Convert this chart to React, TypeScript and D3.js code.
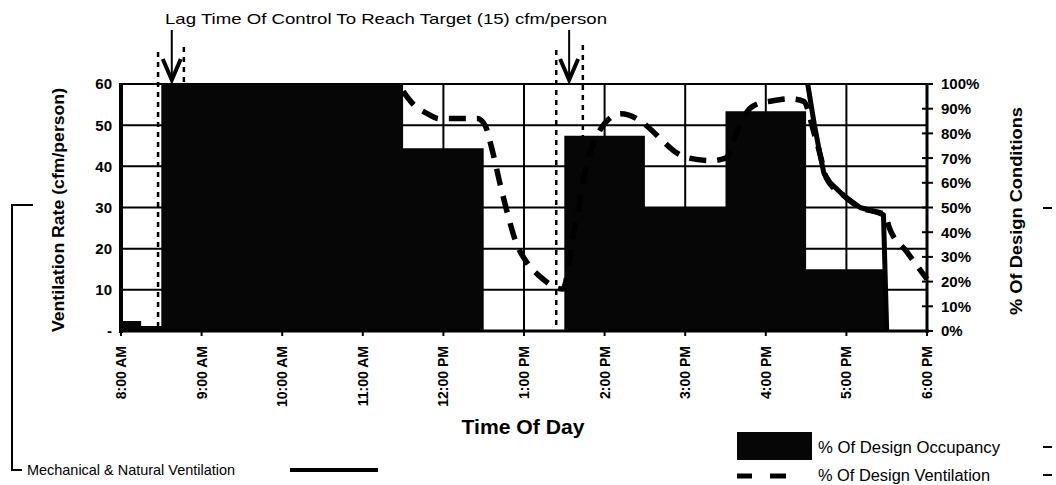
import React from "react";
import * as d3 from "d3";

// time of day in decimal hours, values in % of design
const hourTicks = [8, 9, 10, 11, 12, 13, 14, 15, 16, 17, 18];
const hourLabels = ["8:00 AM", "9:00 AM", "10:00 AM", "11:00 AM", "12:00 PM", "1:00 PM", "2:00 PM", "3:00 PM", "4:00 PM", "5:00 PM", "6:00 PM"];
const leftTicks = [0, 10, 20, 30, 40, 50, 60];
const rightTicks = [0, 10, 20, 30, 40, 50, 60, 70, 80, 90, 100];

// % Of Design Occupancy (step starts)
const occTimes = [8, 8.25, 8.5, 11.5, 12.5, 13.5, 14.5, 15.5, 16.5, 17.5, 18];
const occValues = [4, 2, 100, 74, 0, 79, 50, 89, 25, 0, 0];

// % Of Design Ventilation
const ventTimes = [11.5, 11.62, 11.8, 11.95, 12.2, 12.42, 12.52, 12.6, 12.7, 12.8, 12.9, 13.03, 13.2, 13.48, 13.62, 13.8, 13.92, 14.0, 14.2, 14.4, 14.56, 14.72, 14.9, 15.05, 15.33, 15.5, 15.7, 15.8, 15.9, 16.05, 16.3, 16.47, 16.6, 16.67, 16.75, 16.96, 17.17, 17.4, 17.48, 17.53, 17.75, 18.0];
const ventValues = [97, 92, 88, 86, 86, 86, 83, 74, 60, 47, 36, 28, 22, 17, 40, 70, 80, 84, 88, 86, 82, 77, 72, 70, 69, 70, 85, 90, 92, 93, 94, 93, 80, 72, 62, 55, 50, 48, 47, 42, 32, 21];

// Mechanical & Natural Ventilation
const mechTimes = [16.52, 16.6, 16.67, 16.72, 16.8, 16.96, 17.17, 17.38, 17.46, 17.5];
const mechValues = [100, 84, 72, 64, 60, 55, 50, 48, 47, 0];

// lag time markers: [dotted start, dotted end, arrow]
const lagStart = [8.46, 13.4];
const lagEnd = [8.78, 13.73];
const lagArrow = [8.63, 13.56];

const W = 1056;
const H = 485;
const font = "'Liberation Sans', Arial, sans-serif";

export default function App() {
  const x = d3.scaleLinear().domain([8, 18]).range([121, 927]);
  const y = d3.scaleLinear().domain([0, 100]).range([331, 84]);
  const yL = d3.scaleLinear().domain([0, 60]).range([331, 84]);

  const occ = occTimes.map((t, i) => [t, occValues[i]] as [number, number]);
  const vent = ventTimes.map((t, i) => [t, ventValues[i]] as [number, number]);
  const mech = mechTimes.map((t, i) => [t, mechValues[i]] as [number, number]);

  const area = d3.area<[number, number]>()
    .x(d => x(d[0]))
    .y0(y(0))
    .y1(d => y(d[1]))
    .curve(d3.curveStepAfter);
  const line = d3.line<[number, number]>()
    .x(d => x(d[0]))
    .y(d => y(d[1]))
    .curve(d3.curveMonotoneX);
  const lineLin = d3.line<[number, number]>()
    .x(d => x(d[0]))
    .y(d => y(d[1]));

  return (
    <svg width={W} height={H} style={{ position: "absolute", left: 0, top: 0, background: "#fff" }} fontFamily={font}>
      {/* title */}
      <text x={165} y={24} fontSize={15} textLength={442} lengthAdjust="spacingAndGlyphs">
        Lag Time Of Control To Reach Target (15) cfm/person
      </text>

      {/* gridlines */}
      {leftTicks.map(t => (
        <line key={"h" + t} x1={x(8)} x2={x(18)} y1={yL(t)} y2={yL(t)} stroke="#000" strokeWidth={2} />
      ))}
      {hourTicks.map(t => (
        <line key={"v" + t} x1={x(t)} x2={x(t)} y1={y(100)} y2={y(0)} stroke="#000" strokeWidth={2} />
      ))}

      {/* lag dotted lines and arrows */}
      {lagStart.map((t, i) => (
        <g key={"lag" + i}>
          <line x1={x(t)} x2={x(t)} y1={i === 0 ? 52 : 50} y2={y(0)} stroke="#000" strokeWidth={2.5} strokeDasharray="5 5" />
          <line x1={x(lagEnd[i])} x2={x(lagEnd[i])} y1={i === 0 ? 47 : 45} y2={y(0)} stroke="#000" strokeWidth={2.5} strokeDasharray="5 5" />
          <line x1={x(lagArrow[i])} x2={x(lagArrow[i])} y1={30} y2={78} stroke="#000" strokeWidth={2} />
          <path d={`M${x(lagArrow[i]) - 9},59 L${x(lagArrow[i])},80 L${x(lagArrow[i]) + 9},59`} fill="none" stroke="#000" strokeWidth={4} />
        </g>
      ))}

      {/* occupancy */}
      <path d={area(occ) ?? ""} fill="#060606" />

      {/* ventilation dashed */}
      <path d={line(vent) ?? ""} fill="none" stroke="#000" strokeWidth={5.5} strokeDasharray="17 11" />
      {/* mechanical & natural solid */}
      <path d={lineLin(mech) ?? ""} fill="none" stroke="#000" strokeWidth={5} strokeLinejoin="round" />

      {/* axes frame */}
      <line x1={x(8)} x2={x(8)} y1={y(100) - 1} y2={y(0) + 2} stroke="#000" strokeWidth={4} />
      <line x1={x(8) - 2} x2={x(18) + 2} y1={y(0)} y2={y(0)} stroke="#000" strokeWidth={3} />
      <line x1={x(18)} x2={x(18)} y1={y(100) - 1} y2={y(0) + 2} stroke="#000" strokeWidth={3} />
      {hourTicks.map(t => (
        <line key={"bt" + t} x1={x(t)} x2={x(t)} y1={y(0)} y2={y(0) + 5} stroke="#000" strokeWidth={2} />
      ))}
      {rightTicks.map(t => (
        <line key={"rt" + t} x1={x(18) - 5} x2={x(18) + 6} y1={y(t)} y2={y(t)} stroke="#000" strokeWidth={2} />
      ))}

      {/* left tick labels */}
      {leftTicks.map(t => (
        <text key={"ll" + t} x={112} y={yL(t)} dy="0.36em" textAnchor="end" fontSize={15} fontWeight="bold">
          {t === 0 ? "-" : t}
        </text>
      ))}
      {/* right tick labels */}
      {rightTicks.map(t => (
        <text key={"rl" + t} x={941} y={y(t)} dy="0.36em" fontSize={15} fontWeight="bold">
          {t + "%"}
        </text>
      ))}
      {/* x tick labels */}
      {hourTicks.map((t, i) => (
        <text key={"xl" + t} transform={`translate(${x(t)},346) rotate(-90)`} dy="0.36em" textAnchor="end" fontSize={14} fontWeight="bold">
          {hourLabels[i]}
        </text>
      ))}

      {/* axis titles */}
      <text transform="translate(64,210) rotate(-90)" textAnchor="middle" fontSize={17} fontWeight="bold" textLength={244} lengthAdjust="spacingAndGlyphs">
        Ventilation Rate (cfm/person)
      </text>
      <text transform="translate(1022,211) rotate(-90)" textAnchor="middle" fontSize={17} fontWeight="bold" textLength={208} lengthAdjust="spacingAndGlyphs">
        % Of Design Conditions
      </text>
      <text x={523} y={434} textAnchor="middle" fontSize={21} fontWeight="bold" textLength={123} lengthAdjust="spacingAndGlyphs">
        Time Of Day
      </text>

      {/* legend */}
      <rect x={737} y={432} width={75} height={28} fill="#060606" />
      <text x={818} y={453} fontSize={16} textLength={182} lengthAdjust="spacingAndGlyphs">% Of Design Occupancy</text>
      <line x1={737} x2={752} y1={476} y2={476} stroke="#000" strokeWidth={5} />
      <line x1={770} x2={786} y1={476} y2={476} stroke="#000" strokeWidth={5} />
      <text x={818} y={481} fontSize={16} textLength={172} lengthAdjust="spacingAndGlyphs">% Of Design Ventilation</text>
      <line x1={1043} x2={1052} y1={447} y2={447} stroke="#000" strokeWidth={2} />
      <line x1={1043} x2={1052} y1={475} y2={475} stroke="#000" strokeWidth={2} />
      <line x1={1043} x2={1052} y1={208} y2={208} stroke="#000" strokeWidth={2} />

      {/* bracket and mechanical legend */}
      <path d="M33,205 L12,205 L12,470 L22,470" fill="none" stroke="#000" strokeWidth={2} />
      <text x={27} y={475} fontSize={15} textLength={208} lengthAdjust="spacingAndGlyphs">Mechanical &amp; Natural Ventilation</text>
      <line x1={290} x2={378} y1={470} y2={470} stroke="#000" strokeWidth={4} />
    </svg>
  );
}
